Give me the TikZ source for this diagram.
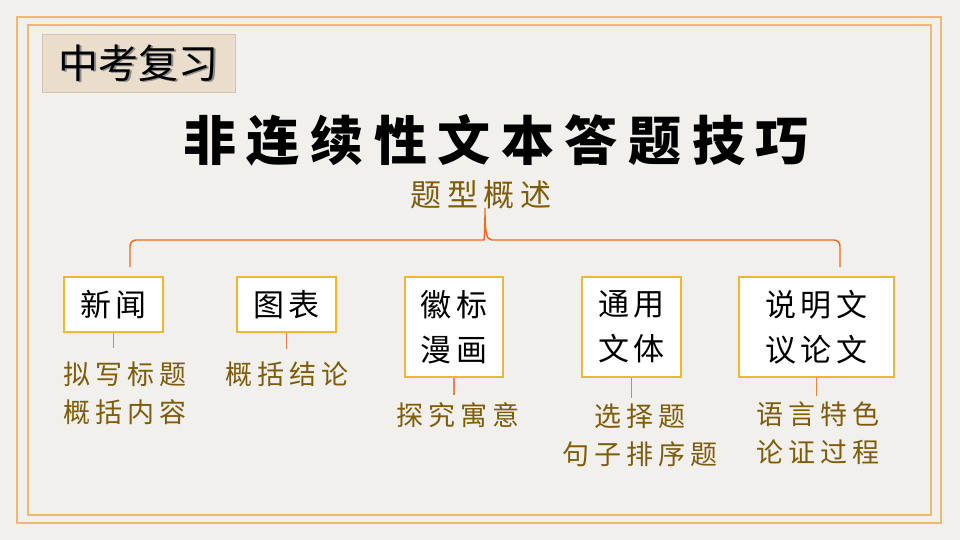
\documentclass[tikz,border=0pt]{standalone}
\usepackage{fontspec}
\newfontfamily\cjk{Noto Sans CJK SC}
\newcommand\drop[2][1.5pt]{\rlap{\kern#1\raisebox{-#1}{\color{black!45}#2}}#2}
\definecolor{paper}{HTML}{F2F0EC}
\definecolor{frameorange}{HTML}{EDB775}
\definecolor{tagfill}{HTML}{EBDDCC}
\definecolor{tagline}{HTML}{D6C4AE}
\definecolor{boxline}{HTML}{F5B52E}
\definecolor{linkred}{HTML}{F2671C}
\definecolor{gold}{HTML}{7E5C0C}
\begin{document}
\begin{tikzpicture}[x=1pt,y=-1pt,
  frame/.style={draw=frameorange,line width=2.6pt},
  tagbox/.style={draw=tagline,fill=tagfill,line width=1pt,minimum width=193pt,minimum height=58pt,inner sep=0pt,
    font=\cjk\fontsize{40}{40}\selectfont},
  headline/.style={inner sep=0pt,font=\cjk\bfseries\fontsize{53}{53}\selectfont\addfontfeature{LetterSpace=20}},
  subline/.style={inner sep=0pt,text=gold,font=\cjk\fontsize{31}{31}\selectfont\addfontfeature{LetterSpace=19}},
  typebox/.style={draw=boxline,fill=white,line width=1.2pt,inner sep=0pt,align=center,
    font=\cjk\fontsize{31}{45}\selectfont\addfontfeature{LetterSpace=16}},
  tip/.style={inner sep=0pt,align=center,text=gold,
    font=\cjk\fontsize{27}{38}\selectfont\addfontfeature{LetterSpace=18}},
  brace/.style={draw=linkred,line width=1.4pt},
  stub/.style={draw=linkred!85,line width=1.3pt}]
  \useasboundingbox (0,0) rectangle (960,540);
  \fill[paper] (0,0) rectangle (960,540);
  \draw[frame] (17,17) rectangle (941,523);
  \draw[frame] (28,25) rectangle (931,515);

  \node[tagbox] (tag) at (138.5,64) {\drop{中考复习}};
  \node[headline] (title) at (496,140) {非连续性文本答题技巧};
  \node[subline] (kind) at (481,195) {题型概述};

  \node[typebox,minimum width=99pt,minimum height=55pt] (news) at (113.5,304.5) {新闻};
  \node[typebox,minimum width=99pt,minimum height=55pt] (chart) at (286.5,304.5) {图表};
  \node[typebox,minimum width=98pt,minimum height=100pt] (logo) at (454,327) {徽标\\漫画};
  \node[typebox,minimum width=99pt,minimum height=100pt] (applied) at (631.5,327) {通用\\文体};
  \node[typebox,minimum width=155pt,minimum height=100pt] (expo) at (816.5,327) {说明文\\议论文};

  \node[tip] (newsl) at (125,393) {拟写标题\\概括内容};
  \node[tip] (chartl) at (287,374) {概括结论};
  \node[tip] (logol) at (458,415) {探究寓意};
  \node[tip] (appliedl) at (640,435) {选择题\\句子排序题};
  \node[tip] (expol) at (818,433.5) {语言特色\\论证过程};

  \coordinate (brL) at (130,267);
  \coordinate (brR) at (840,267);
  \coordinate (brT) at (485,208);
  \draw[brace] (brL) [rounded corners=6pt] |- (478,240) [sharp corners]
    .. controls (484,240) and (485,232) .. (brT)
    .. controls (485,232) and (486,240) .. (492,240) [rounded corners=6pt] -| (brR);

  \draw[stub,shorten >=13pt] (news.south) -- (news.south |- newsl.north);
  \draw[stub,shorten >=12pt] (chart.south) -- (chart.south |- chartl.north);
  \draw[stub,shorten >=7pt] (logo.south) -- (logo.south |- logol.north);
  \draw[stub,shorten >=5pt] (applied.south) -- (applied.south |- appliedl.north);
  \draw[stub,shorten >=6pt] (expo.south) -- (expo.south |- expol.north);
\end{tikzpicture}
\end{document}
